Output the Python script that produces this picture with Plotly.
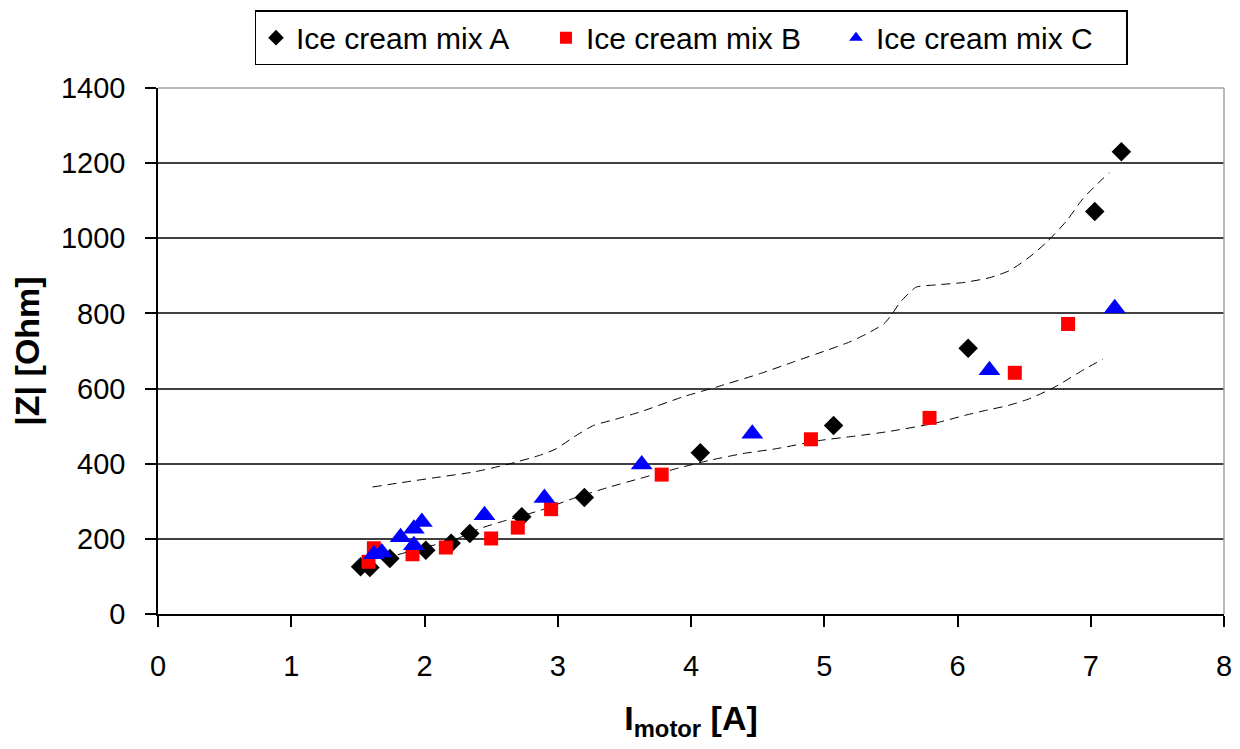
import plotly.graph_objects as go

mix_a_x = [1.52, 1.59, 1.74, 2.01, 2.20, 2.34, 2.73, 3.20, 4.07, 5.07, 6.08, 7.03, 7.23]
mix_a_y = [126, 124, 148, 170, 188, 214, 259, 310, 429, 502, 707, 1071, 1230]

mix_b_x = [1.58, 1.62, 1.91, 2.16, 2.50, 2.70, 2.95, 3.78, 4.90, 5.79, 6.43, 6.83]
mix_b_y = [139, 175, 159, 177, 201, 230, 279, 371, 465, 522, 642, 772]

mix_c_x = [1.62, 1.68, 1.82, 1.92, 1.92, 1.98, 2.45, 2.90, 3.63, 4.46, 6.24, 7.18]
mix_c_y = [159, 164, 204, 183, 227, 245, 263, 309, 398, 480, 649, 814]

# dashed envelope lines (hand drawn in the original)
upper_x = [1.61, 1.87, 2.12, 2.37, 2.62, 2.87, 2.99, 3.12, 3.27, 3.42, 3.62, 3.94, 4.19, 4.52,
           4.77, 5.02, 5.19, 5.32, 5.45, 5.51, 5.57, 5.63, 5.69, 5.84, 6.04, 6.24, 6.39, 6.54,
           6.67, 6.82, 6.94, 7.05, 7.14]
upper_y = [338, 352, 365, 378, 398, 423, 440, 471, 502, 517, 538, 578, 604, 640,
           671, 702, 724, 746, 773, 799, 830, 852, 870, 876, 882, 895, 914, 950,
           990, 1047, 1105, 1145, 1175]

lower_x = [1.80, 2.02, 2.22, 2.42, 2.62, 2.87, 3.12, 3.37, 3.62, 3.89, 4.14, 4.39, 4.64, 4.97,
           5.22, 5.47, 5.82, 6.07, 6.20, 6.38, 6.54, 6.73, 6.96, 7.09]
lower_y = [158, 179, 197, 228, 250, 276, 308, 336, 361, 387, 409, 427, 440, 462,
           473, 485, 507, 530, 541, 555, 573, 604, 653, 678]

x_ticks = [0, 1, 2, 3, 4, 5, 6, 7, 8]
y_ticks = [0, 200, 400, 600, 800, 1000, 1200, 1400]

FONT = "Liberation Sans, Arial, sans-serif"

fig = go.Figure()

for xs, ys in [(upper_x, upper_y), (lower_x, lower_y)]:
    fig.add_trace(go.Scatter(x=xs, y=ys, mode='lines', showlegend=False, hoverinfo='skip',
                             line=dict(color='black', width=1, dash='9px,6px', shape='spline', smoothing=0.6)))

fig.add_trace(go.Scatter(x=mix_a_x, y=mix_a_y, mode='markers', name='Ice cream mix A',
                         marker=dict(symbol='diamond', size=15, color='black')))
fig.add_trace(go.Scatter(x=mix_b_x, y=mix_b_y, mode='markers', name='Ice cream mix B',
                         marker=dict(symbol='square', size=14, color='#ff0000')))
fig.add_trace(go.Scatter(x=mix_c_x, y=mix_c_y, mode='markers', name='Ice cream mix C',
                         marker=dict(symbol='triangle-up', size=19, color='#0000ff')))

fig.update_xaxes(range=[0, 8], tickvals=x_ticks, showgrid=False, zeroline=False, automargin=False,
                 showline=True, linecolor='black', linewidth=1.5,
                 ticks='outside', ticklen=11, tickwidth=1.5, tickcolor='black',
                 tickfont=dict(size=29, color='black'), ticklabelstandoff=14,
                 title=dict(text='I<sub>motor</sub> [A]', standoff=26,
                            font=dict(size=34, color='black', weight='bold')))
fig.update_yaxes(range=[0, 1400], tickvals=y_ticks, showgrid=True, gridcolor='#404040', gridwidth=1.5,
                 zeroline=False, showline=True, linecolor='black', linewidth=1.5, automargin=False,
                 ticks='outside', ticklen=11, tickwidth=1.5, tickcolor='black',
                 tickfont=dict(size=29, color='black'), ticklabelstandoff=14,
                 title=dict(text='|Z| [Ohm]', standoff=18,
                            font=dict(size=34, color='black', weight='bold')))

# gray plot-area border on top and right, like the spreadsheet chart
fig.add_shape(type='line', xref='paper', yref='paper', x0=0, x1=1, y0=1, y1=1,
              line=dict(color='#a0a0a0', width=1.5), layer='above')
fig.add_shape(type='line', xref='paper', yref='paper', x0=1, x1=1, y0=0, y1=1,
              line=dict(color='#a0a0a0', width=1.5), layer='above')

# the page body adds an 8px offset, so margins are shifted to compensate
fig.update_layout(
    width=1240, height=749,
    margin=dict(l=150, r=24, t=80, b=143, autoexpand=False),
    plot_bgcolor='white', paper_bgcolor='white',
    font=dict(family=FONT, color='black'),
    legend=dict(orientation='h', x=0.5, xanchor='center', y=1.148, yanchor='top',
                bordercolor='black', borderwidth=1.5, bgcolor='white',
                font=dict(size=30, color='black'), entrywidth=245, itemsizing='constant'),
)

fig.write_html("out.html")
